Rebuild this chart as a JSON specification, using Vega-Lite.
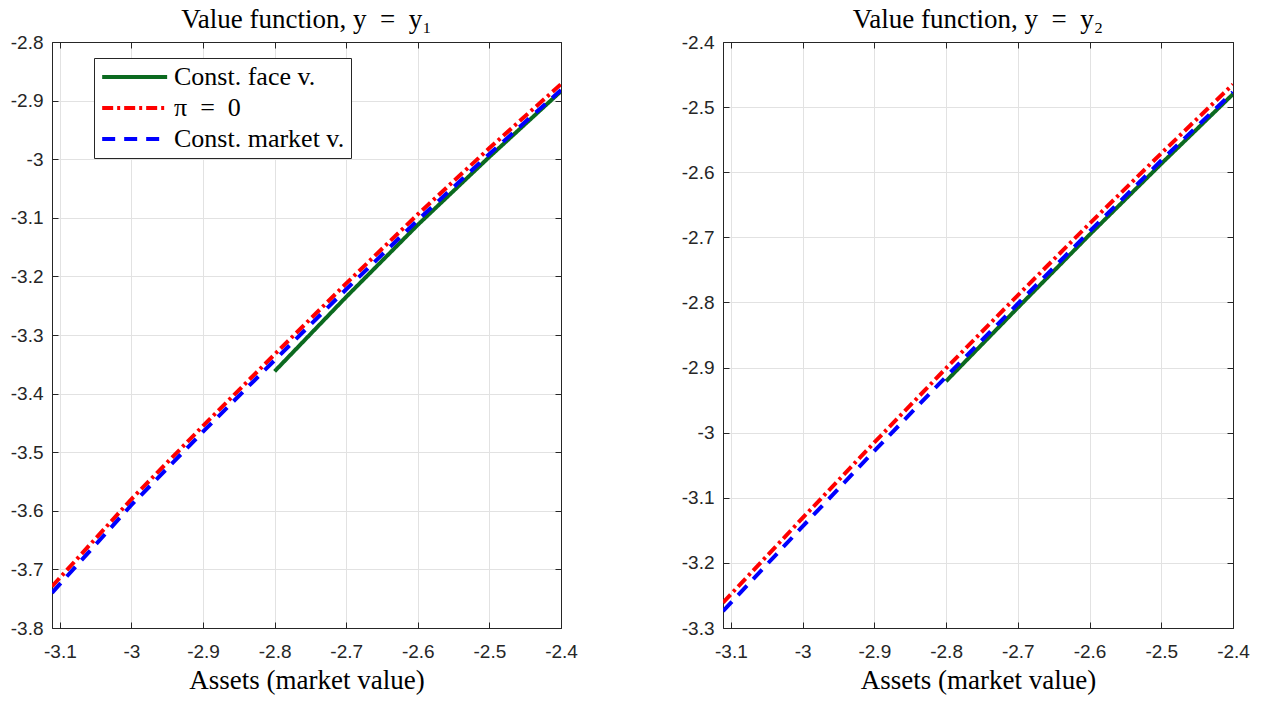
{
  "$schema": "https://vega.github.io/schema/vega-lite/v6.json",
  "padding": {"left": 9, "top": 5, "right": 5, "bottom": 5},
  "background": "white",
  "spacing": 102,
  "config": {
    "view": {"stroke": "#262626", "strokeWidth": 1},
    "axis": {
      "labelFont": "Liberation Sans",
      "labelFontSize": 19,
      "labelColor": "#262626",
      "gridColor": "#e2e2e2",
      "gridWidth": 1,
      "domainColor": "#262626",
      "tickColor": "#262626",
      "tickSize": -6,
      "titleFont": "Liberation Serif",
      "titleFontSize": 27,
      "titleFontWeight": "normal",
      "titleColor": "#000000"
    },
    "title": {"font": "Liberation Serif", "fontSize": 27, "fontWeight": "normal", "color": "#000000", "anchor": "middle", "offset": -1}
  },
  "datasets": {
    "left": [
      {"s": "Const. face v.", "x": -2.8, "v": -3.362},
      {"s": "Const. face v.", "x": -2.7, "v": -3.235},
      {"s": "Const. face v.", "x": -2.6, "v": -3.112},
      {"s": "Const. face v.", "x": -2.5, "v": -2.996},
      {"s": "Const. face v.", "x": -2.4, "v": -2.884},
      {"s": "π\u2002=\u20020", "x": -3.111, "v": -3.729},
      {"s": "π\u2002=\u20020", "x": -3.0, "v": -3.580},
      {"s": "π\u2002=\u20020", "x": -2.9, "v": -3.455},
      {"s": "π\u2002=\u20020", "x": -2.8, "v": -3.333},
      {"s": "π\u2002=\u20020", "x": -2.7, "v": -3.212},
      {"s": "π\u2002=\u20020", "x": -2.6, "v": -3.094},
      {"s": "π\u2002=\u20020", "x": -2.5, "v": -2.981},
      {"s": "π\u2002=\u20020", "x": -2.4, "v": -2.872},
      {"s": "Const. market v.", "x": -3.111, "v": -3.740},
      {"s": "Const. market v.", "x": -3.0, "v": -3.590},
      {"s": "Const. market v.", "x": -2.9, "v": -3.465},
      {"s": "Const. market v.", "x": -2.8, "v": -3.343},
      {"s": "Const. market v.", "x": -2.7, "v": -3.222},
      {"s": "Const. market v.", "x": -2.6, "v": -3.104},
      {"s": "Const. market v.", "x": -2.5, "v": -2.991},
      {"s": "Const. market v.", "x": -2.4, "v": -2.882}
    ],
    "right": [
      {"s": "Const. face v.", "x": -2.8, "v": -2.921},
      {"s": "Const. face v.", "x": -2.7, "v": -2.808},
      {"s": "Const. face v.", "x": -2.6, "v": -2.696},
      {"s": "Const. face v.", "x": -2.5, "v": -2.587},
      {"s": "Const. face v.", "x": -2.4, "v": -2.480},
      {"s": "π\u2002=\u20020", "x": -3.111, "v": -3.261},
      {"s": "π\u2002=\u20020", "x": -3.0, "v": -3.131},
      {"s": "π\u2002=\u20020", "x": -2.9, "v": -3.015},
      {"s": "π\u2002=\u20020", "x": -2.8, "v": -2.901},
      {"s": "π\u2002=\u20020", "x": -2.7, "v": -2.789},
      {"s": "π\u2002=\u20020", "x": -2.6, "v": -2.679},
      {"s": "π\u2002=\u20020", "x": -2.5, "v": -2.571},
      {"s": "π\u2002=\u20020", "x": -2.4, "v": -2.465},
      {"s": "Const. market v.", "x": -3.111, "v": -3.274},
      {"s": "Const. market v.", "x": -3.0, "v": -3.144},
      {"s": "Const. market v.", "x": -2.9, "v": -3.028},
      {"s": "Const. market v.", "x": -2.8, "v": -2.914},
      {"s": "Const. market v.", "x": -2.7, "v": -2.802},
      {"s": "Const. market v.", "x": -2.6, "v": -2.691},
      {"s": "Const. market v.", "x": -2.5, "v": -2.582},
      {"s": "Const. market v.", "x": -2.4, "v": -2.477}
    ]
  },
  "resolve": {"scale": {"color": "independent", "strokeDash": "independent"}},
  "hconcat": [
    {
      "width": 509,
      "height": 586,
      "title": {"text": "Value function, y\u2002=\u2002y₁"},
      "data": {"name": "left"},
      "resolve": {"axis": {"x": "independent", "y": "independent"}},
      "layer": [
        {
          "mark": {"type": "line", "strokeWidth": 4, "clip": true},
          "encoding": {
            "x": {"field": "x", "type": "quantitative",
              "scale": {"domain": [-3.111, -2.4], "nice": false, "zero": false},
              "axis": {"values": [-3.1, -3, -2.9, -2.8, -2.7, -2.6, -2.5, -2.4], "labelExpr": "datum.value < 0 ? '-' + format(-datum.value, '~g') : format(datum.value, '~g')", "labelPadding": 20, "title": "Assets (market value)", "titlePadding": 6, "labelFlush": false}},
            "y": {"field": "v", "type": "quantitative",
              "scale": {"domain": [-3.8, -2.8], "nice": false, "zero": false},
              "axis": {"values": [-3.8, -3.7, -3.6, -3.5, -3.4, -3.3, -3.2, -3.1, -3, -2.9, -2.8], "labelExpr": "datum.value < 0 ? '-' + format(-datum.value, '~g') : format(datum.value, '~g')", "labelPadding": 15, "title": null, "labelFlush": false}},
            "color": {"field": "s", "type": "nominal",
              "scale": {"domain": ["Const. face v.", "π\u2002=\u20020", "Const. market v."], "range": ["#0b6a1f", "#ff0000", "#0000ff"]},
              "legend": {"orient": "none", "legendX": 42, "legendY": 16, "title": null, "symbolType": "M-1,0H5", "symbolSize": 469, "symbolStrokeWidth": 4, "labelFont": "Liberation Serif", "labelFontSize": 26, "labelColor": "#000000", "labelOffset": 48, "labelLimit": 400, "rowPadding": 5, "padding": 6, "strokeColor": "#262626", "fillColor": "#ffffff"}},
            "strokeDash": {"field": "s", "type": "nominal",
              "scale": {"domain": ["Const. face v.", "π\u2002=\u20020", "Const. market v."], "range": [[1, 0], [11, 4, 3, 4], [13, 9]]},
              "legend": {"orient": "none", "legendX": 42, "legendY": 16, "title": null, "symbolType": "M-1,0H5", "symbolSize": 469, "symbolStrokeWidth": 4, "labelFont": "Liberation Serif", "labelFontSize": 26, "labelColor": "#000000", "labelOffset": 48, "labelLimit": 400, "rowPadding": 5, "padding": 6, "strokeColor": "#262626", "fillColor": "#ffffff"}}
          }
        },
        {
          "mark": {"type": "line", "opacity": 0},
          "encoding": {
            "x": {"field": "x", "type": "quantitative", "axis": {"orient": "top", "values": [-3.1, -3, -2.9, -2.8, -2.7, -2.6, -2.5, -2.4], "labels": false, "grid": false, "title": null}},
            "y": {"field": "v", "type": "quantitative", "axis": {"orient": "right", "values": [-3.8, -3.7, -3.6, -3.5, -3.4, -3.3, -3.2, -3.1, -3, -2.9, -2.8], "labels": false, "grid": false, "title": null}}
          }
        }
      ]
    },
    {
      "width": 510,
      "height": 586,
      "title": {"text": "Value function, y\u2002=\u2002y₂"},
      "data": {"name": "right"},
      "resolve": {"axis": {"x": "independent", "y": "independent"}},
      "layer": [
        {
          "mark": {"type": "line", "strokeWidth": 4, "clip": true},
          "encoding": {
            "x": {"field": "x", "type": "quantitative",
              "scale": {"domain": [-3.111, -2.4], "nice": false, "zero": false},
              "axis": {"values": [-3.1, -3, -2.9, -2.8, -2.7, -2.6, -2.5, -2.4], "labelExpr": "datum.value < 0 ? '-' + format(-datum.value, '~g') : format(datum.value, '~g')", "labelPadding": 20, "title": "Assets (market value)", "titlePadding": 6, "labelFlush": false}},
            "y": {"field": "v", "type": "quantitative",
              "scale": {"domain": [-3.3, -2.4], "nice": false, "zero": false},
              "axis": {"values": [-3.3, -3.2, -3.1, -3, -2.9, -2.8, -2.7, -2.6, -2.5, -2.4], "labelExpr": "datum.value < 0 ? '-' + format(-datum.value, '~g') : format(datum.value, '~g')", "labelPadding": 15, "title": null, "labelFlush": false}},
            "color": {"field": "s", "type": "nominal",
              "scale": {"domain": ["Const. face v.", "π\u2002=\u20020", "Const. market v."], "range": ["#0b6a1f", "#ff0000", "#0000ff"]},
              "legend": null},
            "strokeDash": {"field": "s", "type": "nominal",
              "scale": {"domain": ["Const. face v.", "π\u2002=\u20020", "Const. market v."], "range": [[1, 0], [11, 4, 3, 4], [13, 9]]},
              "legend": null}
          }
        },
        {
          "mark": {"type": "line", "opacity": 0},
          "encoding": {
            "x": {"field": "x", "type": "quantitative", "axis": {"orient": "top", "values": [-3.1, -3, -2.9, -2.8, -2.7, -2.6, -2.5, -2.4], "labels": false, "grid": false, "title": null}},
            "y": {"field": "v", "type": "quantitative", "axis": {"orient": "right", "values": [-3.3, -3.2, -3.1, -3, -2.9, -2.8, -2.7, -2.6, -2.5, -2.4], "labels": false, "grid": false, "title": null}}
          }
        }
      ]
    }
  ]
}
